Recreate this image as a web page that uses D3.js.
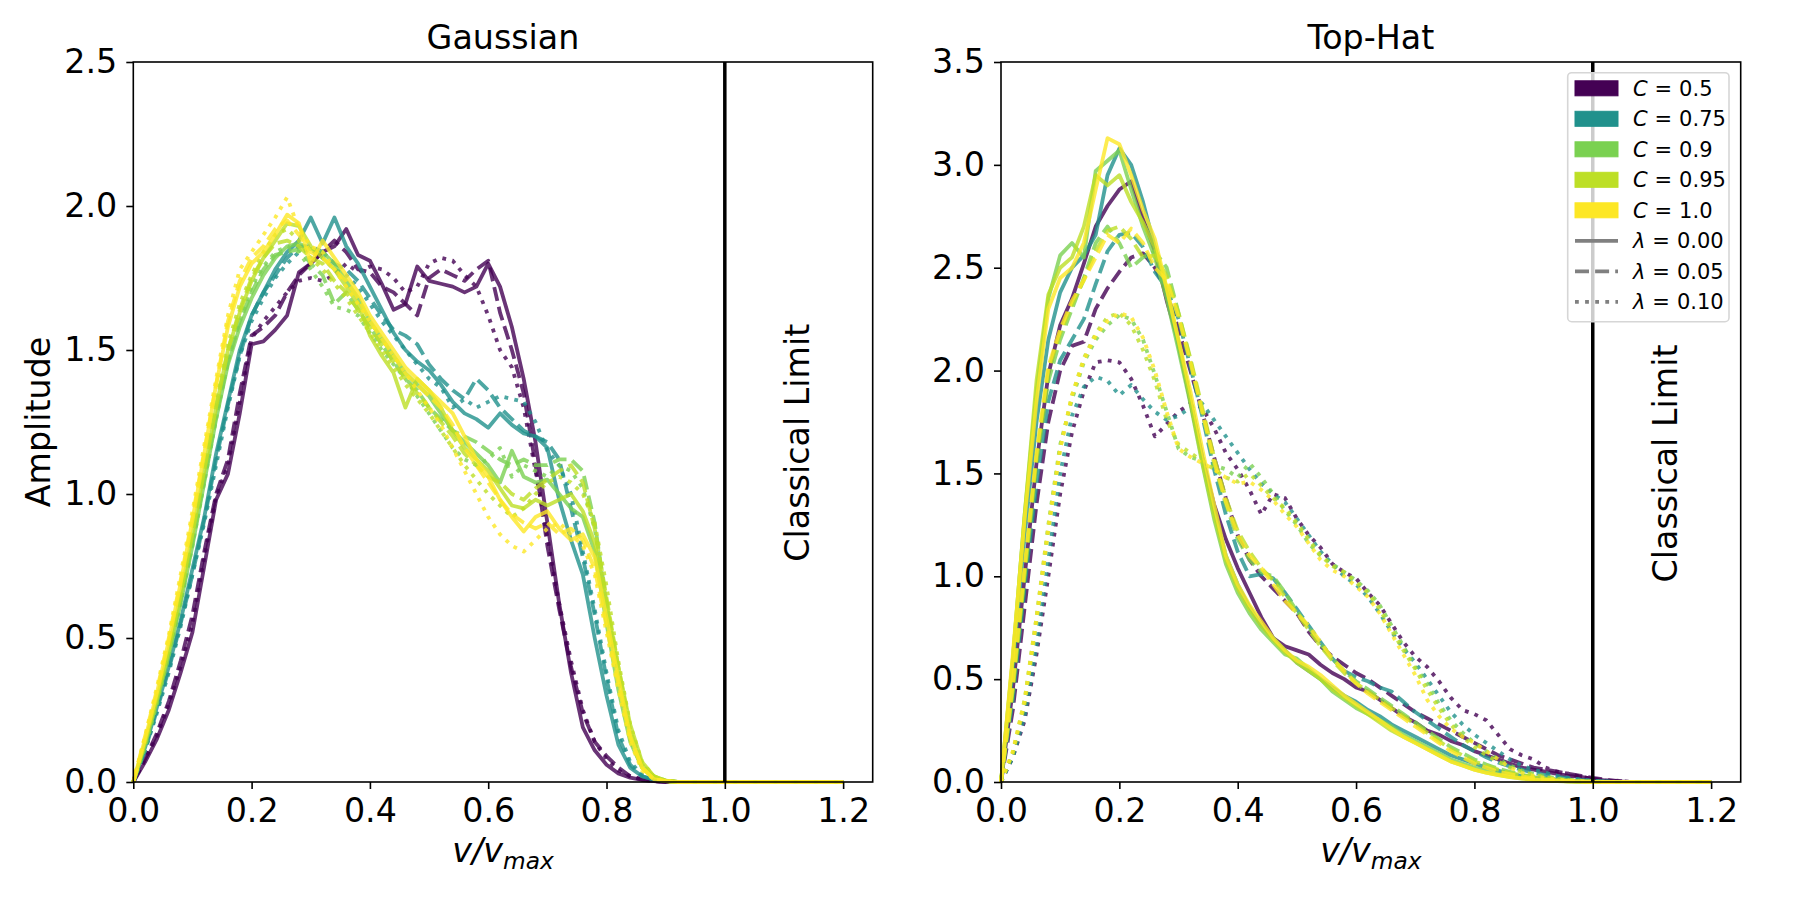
<!DOCTYPE html>
<html><head><meta charset="utf-8">
<script src="https://cdn.jsdelivr.net/npm/d3@7"></script>
<style>body{margin:0;background:#fff} svg{display:block} text{font-family:"DejaVu Sans",sans-serif;fill:#000}</style>
</head><body><svg id="chart" width="1800" height="900"></svg>
<script>
// ---------- data ----------
const vGrid = [0,0.02,0.04,0.06,0.08,0.1,0.12,0.14,0.16,0.18,0.2,0.22,0.24,0.26,0.28,0.3,0.32,0.34,0.36,0.38,0.4,0.42,0.44,0.46,0.48,0.5,0.52,0.54,0.56,0.58,0.6,0.62,0.64,0.66,0.68,0.7,0.72,0.74,0.76,0.78,0.8,0.82,0.84,0.86,0.88,0.9,0.92,0.94,0.96,0.98,1,1.02,1.04,1.06,1.08,1.1,1.12,1.14,1.16,1.18,1.2];
const cValues = [0.5, 0.75, 0.9, 0.95, 1.0];
const cLabels = ["0.5", "0.75", "0.9", "0.95", "1.0"];
const lambdaLabels = ["0.00", "0.05", "0.10"];
const xTicks = [0, 0.2, 0.4, 0.6, 0.8, 1.0, 1.2];
const gaussYTicks = [0, 0.5, 1.0, 1.5, 2.0, 2.5];
const topHatYTicks = [0, 0.5, 1.0, 1.5, 2.0, 2.5, 3.0, 3.5];
const panelTitles = ["Gaussian", "Top-Hat"];

// Gaussian panel
const gauss_C050_L000 = [0,0.07,0.15,0.25,0.38,0.52,0.75,0.98,1.07,1.28, 1.52,1.53,1.57,1.62,1.77,1.80,1.84,1.86,1.92,1.83, 1.81,1.73,1.64,1.66,1.79,1.74,1.73,1.72,1.70,1.72, 1.80,1.72,1.58,1.40,1.18,0.90,0.62,0.38,0.19,0.11, 0.06,0.03,0.015,0.007,0.003,0,0,0,0,0, 0,0,0,0,0,0,0,0,0,0, 0];
const gauss_C050_L005 = [0,0.08,0.17,0.28,0.42,0.58,0.80,1.00,1.12,1.35, 1.55,1.58,1.62,1.70,1.76,1.80,1.84,1.88,1.84,1.78, 1.77,1.72,1.70,1.66,1.62,1.75,1.78,1.76,1.74,1.78, 1.81,1.63,1.50,1.35,1.10,0.82,0.60,0.40,0.24,0.14, 0.09,0.05,0.02,0.008,0.003,0,0,0,0,0, 0,0,0,0,0,0,0,0,0,0, 0];
const gauss_C050_L010 = [0,0.08,0.16,0.27,0.40,0.55,0.78,0.99,1.10,1.32, 1.54,1.60,1.65,1.70,1.74,1.75,1.74,1.76,1.80,1.77, 1.79,1.78,1.75,1.70,1.72,1.80,1.82,1.81,1.76,1.72, 1.62,1.50,1.44,1.30,1.08,0.85,0.62,0.42,0.25,0.14, 0.08,0.04,0.02,0.01,0.004,0,0,0,0,0, 0,0,0,0,0,0,0,0,0,0, 0];
const gauss_C075_L000 = [0,0.12,0.26,0.40,0.56,0.74,0.92,1.14,1.32,1.50, 1.62,1.70,1.78,1.84,1.88,1.96,1.87,1.96,1.86,1.80, 1.72,1.64,1.56,1.50,1.46,1.43,1.38,1.32,1.28,1.26, 1.23,1.28,1.24,1.21,1.20,1.16,0.98,0.84,0.72,0.50, 0.30,0.13,0.05,0.02,0.008,0.003,0,0,0,0, 0,0,0,0,0,0,0,0,0,0, 0];
const gauss_C075_L005 = [0,0.11,0.25,0.39,0.55,0.72,0.91,1.12,1.31,1.48, 1.62,1.70,1.76,1.82,1.86,1.86,1.84,1.80,1.78,1.74, 1.68,1.62,1.57,1.55,1.52,1.45,1.40,1.36,1.33,1.40, 1.36,1.30,1.26,1.22,1.20,1.18,1.12,0.95,0.78,0.58, 0.36,0.16,0.06,0.02,0.008,0.003,0,0,0,0, 0,0,0,0,0,0,0,0,0,0, 0];
const gauss_C075_L010 = [0,0.11,0.24,0.38,0.54,0.72,0.90,1.10,1.30,1.48, 1.60,1.68,1.75,1.80,1.84,1.85,1.82,1.78,1.76,1.72, 1.66,1.60,1.55,1.50,1.45,1.40,1.37,1.30,1.33,1.30, 1.32,1.34,1.33,1.32,1.25,1.15,1.10,1.00,0.80,0.60, 0.38,0.18,0.07,0.025,0.01,0.003,0,0,0,0, 0,0,0,0,0,0,0,0,0,0, 0];
const gauss_C090_L000 = [0,0.13,0.28,0.44,0.62,0.82,1.04,1.26,1.45,1.58, 1.68,1.76,1.82,1.86,1.87,1.85,1.84,1.80,1.74,1.68, 1.60,1.54,1.48,1.42,1.38,1.34,1.28,1.22,1.18,1.14, 1.10,1.04,1.15,1.06,1.04,1.05,1.00,0.95,0.92,0.80, 0.55,0.32,0.14,0.05,0.015,0.004,0,0,0,0, 0,0,0,0,0,0,0,0,0,0, 0];
const gauss_C090_L005 = [0,0.13,0.28,0.45,0.63,0.83,1.05,1.27,1.46,1.60, 1.70,1.78,1.83,1.84,1.85,1.80,1.76,1.66,1.70,1.64, 1.58,1.52,1.46,1.40,1.36,1.30,1.26,1.22,1.20,1.18, 1.15,1.12,1.10,1.12,1.10,1.10,1.12,1.12,1.08,0.90, 0.62,0.36,0.15,0.05,0.015,0.004,0,0,0,0, 0,0,0,0,0,0,0,0,0,0, 0];
const gauss_C090_L010 = [0,0.12,0.27,0.44,0.62,0.82,1.04,1.26,1.46,1.60, 1.72,1.79,1.84,1.86,1.84,1.78,1.72,1.65,1.64,1.62, 1.56,1.50,1.45,1.40,1.34,1.28,1.22,1.16,1.12,1.10, 1.12,1.16,1.06,1.10,1.08,1.06,1.10,1.08,1.02,0.88, 0.62,0.36,0.16,0.06,0.02,0.005,0,0,0,0, 0,0,0,0,0,0,0,0,0,0, 0];
const gauss_C095_L000 = [0,0.14,0.29,0.46,0.65,0.86,1.08,1.30,1.50,1.63, 1.74,1.82,1.88,1.94,1.93,1.86,1.82,1.78,1.72,1.66, 1.55,1.48,1.42,1.30,1.40,1.36,1.30,1.22,1.16,1.12, 1.08,1.02,0.96,0.95,0.98,0.96,0.98,1.00,0.94,0.83, 0.62,0.40,0.20,0.07,0.02,0.005,0,0,0,0, 0,0,0,0,0,0,0,0,0,0, 0];
const gauss_C095_L005 = [0,0.14,0.30,0.47,0.66,0.87,1.09,1.31,1.50,1.64, 1.75,1.82,1.87,1.88,1.86,1.82,1.80,1.74,1.70,1.64, 1.58,1.52,1.46,1.40,1.35,1.30,1.25,1.20,1.14,1.10, 1.06,1.04,1.00,0.98,1.02,1.05,1.08,1.10,1.04,0.88, 0.64,0.40,0.18,0.06,0.02,0.005,0,0,0,0, 0,0,0,0,0,0,0,0,0,0, 0];
const gauss_C095_L010 = [0,0.15,0.31,0.48,0.67,0.88,1.10,1.33,1.52,1.66, 1.76,1.84,1.90,1.92,1.88,1.82,1.78,1.73,1.68,1.62, 1.56,1.50,1.44,1.38,1.33,1.28,1.22,1.16,1.10,1.05, 1.00,0.96,0.92,0.95,1.00,1.04,1.06,1.04,1.00,0.90, 0.68,0.42,0.20,0.07,0.02,0.005,0,0,0,0, 0,0,0,0,0,0,0,0,0,0, 0];
const gauss_C100_L000 = [0,0.15,0.31,0.49,0.69,0.91,1.14,1.38,1.58,1.72, 1.80,1.84,1.90,1.97,1.94,1.80,1.88,1.82,1.76,1.70, 1.62,1.56,1.50,1.44,1.40,1.36,1.32,1.28,1.20,1.12, 1.06,0.98,0.92,0.87,0.92,0.94,0.88,0.84,0.86,0.78, 0.57,0.36,0.16,0.05,0.01,0.003,0,0,0,0, 0,0,0,0,0,0,0,0,0,0, 0];
const gauss_C100_L005 = [0,0.16,0.32,0.50,0.70,0.92,1.15,1.38,1.60,1.74, 1.82,1.86,1.92,1.95,1.90,1.84,1.82,1.78,1.74,1.68, 1.60,1.54,1.48,1.42,1.38,1.34,1.30,1.24,1.16,1.10, 1.04,0.98,0.93,0.90,0.88,0.90,0.86,0.88,0.84,0.74, 0.54,0.34,0.15,0.05,0.01,0.003,0,0,0,0, 0,0,0,0,0,0,0,0,0,0, 0];
const gauss_C100_L010 = [0,0.16,0.33,0.51,0.72,0.94,1.17,1.40,1.62,1.78, 1.84,1.90,1.96,2.03,1.92,1.86,1.84,1.78,1.72,1.66, 1.60,1.54,1.48,1.42,1.36,1.30,1.24,1.16,1.08,1.00, 0.92,0.86,0.82,0.80,0.84,0.88,0.90,0.86,0.82,0.72, 0.52,0.32,0.14,0.04,0.01,0.003,0,0,0,0, 0,0,0,0,0,0,0,0,0,0, 0];

// Top-Hat panel
const tophat_C050_L000 = [0,0.45,1.00,1.55,1.98,2.22,2.35,2.52,2.70,2.80, 2.88,2.92,2.74,2.58,2.34,2.14,1.85,1.58,1.35,1.18, 1.04,0.92,0.80,0.70,0.66,0.64,0.62,0.57,0.53,0.50, 0.46,0.44,0.40,0.36,0.32,0.29,0.25,0.23,0.20,0.18, 0.15,0.13,0.11,0.09,0.07,0.06,0.05,0.04,0.03,0.025, 0.015,0.008,0.003,0,0,0,0,0,0,0, 0];
const tophat_C050_L005 = [0,0.35,0.85,1.35,1.75,2.00,2.12,2.14,2.30,2.40, 2.48,2.55,2.57,2.50,2.38,2.20,2.00,1.80,1.58,1.38, 1.20,1.08,1.00,0.94,0.88,0.82,0.73,0.66,0.61,0.57, 0.53,0.50,0.46,0.42,0.38,0.34,0.31,0.28,0.25,0.22, 0.19,0.16,0.13,0.11,0.09,0.07,0.06,0.05,0.04,0.03, 0.02,0.012,0.006,0.002,0,0,0,0,0,0, 0];
const tophat_C050_L010 = [0,0.12,0.30,0.62,1.00,1.40,1.70,1.90,2.04,2.05, 2.04,1.96,1.83,1.68,1.74,1.80,1.84,1.82,1.72,1.60, 1.52,1.42,1.30,1.40,1.38,1.28,1.20,1.14,1.06,1.02, 0.99,0.92,0.86,0.77,0.68,0.61,0.56,0.49,0.41,0.35, 0.33,0.30,0.23,0.16,0.13,0.11,0.07,0.05,0.04,0.025, 0.015,0.008,0.004,0.002,0,0,0,0,0,0, 0];
const tophat_C075_L000 = [0,0.55,1.20,1.75,2.15,2.38,2.50,2.56,2.66,2.95, 3.08,3.00,2.82,2.60,2.38,2.12,1.86,1.58,1.32,1.10, 0.96,0.85,0.76,0.70,0.64,0.58,0.54,0.50,0.46,0.42, 0.39,0.35,0.32,0.28,0.25,0.22,0.19,0.16,0.13,0.11, 0.09,0.07,0.055,0.04,0.03,0.022,0.016,0.011,0.007,0.004, 0.002,0.001,0,0,0,0,0,0,0,0, 0];
const tophat_C075_L005 = [0,0.40,0.95,1.45,1.85,2.05,2.15,2.25,2.42,2.58, 2.66,2.67,2.60,2.48,2.40,2.25,2.02,1.78,1.52,1.30, 1.12,1.00,1.01,0.99,0.92,0.84,0.76,0.68,0.60,0.54, 0.51,0.49,0.46,0.44,0.39,0.34,0.30,0.26,0.22,0.18, 0.15,0.12,0.095,0.075,0.06,0.045,0.035,0.025,0.017,0.01, 0.006,0.003,0,0,0,0,0,0,0,0, 0];
const tophat_C075_L010 = [0,0.12,0.32,0.66,1.08,1.50,1.78,1.92,1.97,1.95, 1.88,1.93,1.86,1.80,1.76,1.78,1.82,1.84,1.76,1.68, 1.60,1.52,1.45,1.40,1.36,1.28,1.20,1.12,1.06,1.00, 0.96,0.90,0.82,0.73,0.65,0.58,0.50,0.42,0.34,0.28, 0.23,0.19,0.15,0.11,0.08,0.06,0.045,0.03,0.02,0.012, 0.006,0.003,0,0,0,0,0,0,0,0, 0];
const tophat_C090_L000 = [0,0.60,1.30,1.90,2.35,2.56,2.62,2.55,2.97,3.02, 3.07,2.88,2.70,2.55,2.35,2.10,1.84,1.55,1.28,1.06, 0.92,0.82,0.74,0.68,0.62,0.60,0.55,0.50,0.44,0.40, 0.36,0.33,0.30,0.27,0.23,0.20,0.17,0.14,0.11,0.09, 0.07,0.055,0.04,0.03,0.02,0.013,0.008,0.005,0.003,0.001, 0,0,0,0,0,0,0,0,0,0, 0];
const tophat_C090_L005 = [0,0.45,1.00,1.55,1.95,2.15,2.30,2.45,2.62,2.70, 2.62,2.50,2.55,2.58,2.50,2.28,2.05,1.80,1.55,1.35, 1.18,1.08,1.02,1.00,0.92,0.83,0.75,0.67,0.60,0.54, 0.49,0.45,0.41,0.37,0.33,0.29,0.25,0.21,0.17,0.14, 0.11,0.085,0.065,0.05,0.035,0.025,0.017,0.011,0.007,0.004, 0.002,0,0,0,0,0,0,0,0,0, 0];
const tophat_C090_L010 = [0,0.14,0.40,0.80,1.25,1.64,1.86,2.04,2.15,2.22, 2.27,2.25,2.15,1.98,1.80,1.62,1.58,1.56,1.54,1.52, 1.48,1.55,1.48,1.40,1.32,1.25,1.16,1.10,1.06,1.02, 0.98,0.93,0.86,0.76,0.66,0.56,0.48,0.38,0.30,0.24, 0.19,0.15,0.11,0.08,0.055,0.04,0.028,0.018,0.011,0.006, 0.003,0,0,0,0,0,0,0,0,0, 0];
const tophat_C095_L000 = [0,0.60,1.30,1.95,2.37,2.50,2.55,2.70,2.95,2.90, 2.95,2.82,2.72,2.60,2.40,2.14,1.86,1.56,1.30,1.08, 0.94,0.84,0.76,0.69,0.63,0.58,0.54,0.50,0.45,0.41, 0.37,0.33,0.29,0.25,0.22,0.19,0.16,0.13,0.10,0.08, 0.06,0.045,0.033,0.024,0.017,0.011,0.007,0.004,0.002,0.001, 0,0,0,0,0,0,0,0,0,0, 0];
const tophat_C095_L005 = [0,0.45,1.02,1.58,2.00,2.18,2.32,2.44,2.58,2.68, 2.70,2.64,2.55,2.56,2.46,2.28,2.06,1.82,1.58,1.38, 1.22,1.12,1.04,0.98,0.90,0.82,0.74,0.66,0.59,0.53, 0.48,0.44,0.40,0.36,0.32,0.28,0.24,0.20,0.16,0.13, 0.10,0.08,0.06,0.045,0.032,0.022,0.015,0.01,0.006,0.003, 0.001,0,0,0,0,0,0,0,0,0, 0];
const tophat_C095_L010 = [0,0.14,0.38,0.78,1.22,1.62,1.88,2.06,2.18,2.26, 2.28,2.22,2.10,1.95,1.76,1.64,1.60,1.56,1.52,1.48, 1.46,1.50,1.44,1.38,1.33,1.26,1.18,1.10,1.05,1.02, 0.97,0.92,0.84,0.74,0.64,0.55,0.45,0.36,0.28,0.22, 0.17,0.13,0.10,0.07,0.05,0.035,0.024,0.015,0.009,0.005, 0.002,0,0,0,0,0,0,0,0,0, 0];
const tophat_C100_L000 = [0,0.62,1.28,1.85,2.30,2.45,2.50,2.62,2.88,3.13, 3.10,2.95,2.78,2.64,2.40,2.15,1.90,1.62,1.35,1.10, 0.96,0.86,0.78,0.70,0.64,0.59,0.56,0.52,0.47,0.42, 0.38,0.34,0.30,0.26,0.22,0.19,0.16,0.13,0.10,0.08, 0.06,0.045,0.035,0.025,0.018,0.012,0.008,0.005,0.003,0.002, 0.001,0,0,0,0,0,0,0,0,0, 0];
const tophat_C100_L005 = [0,0.48,1.05,1.60,2.02,2.20,2.34,2.44,2.55,2.66, 2.62,2.69,2.62,2.50,2.44,2.26,2.04,1.80,1.56,1.36, 1.20,1.10,1.04,0.96,0.88,0.82,0.76,0.68,0.60,0.54, 0.48,0.43,0.39,0.35,0.31,0.27,0.23,0.19,0.15,0.12, 0.09,0.07,0.05,0.038,0.027,0.018,0.012,0.008,0.005,0.002, 0.001,0,0,0,0,0,0,0,0,0, 0];
const tophat_C100_L010 = [0,0.15,0.40,0.80,1.24,1.62,1.88,2.05,2.17,2.24, 2.28,2.26,2.16,2.00,1.80,1.62,1.58,1.55,1.52,1.48, 1.45,1.46,1.42,1.37,1.30,1.24,1.16,1.08,1.03,1.00, 0.95,0.90,0.82,0.72,0.62,0.52,0.40,0.32,0.26,0.22, 0.19,0.15,0.11,0.07,0.045,0.03,0.02,0.012,0.007,0.004, 0.002,0,0,0,0,0,0,0,0,0, 0];

const gaussSeries = [
  [gauss_C050_L000, gauss_C050_L005, gauss_C050_L010],
  [gauss_C075_L000, gauss_C075_L005, gauss_C075_L010],
  [gauss_C090_L000, gauss_C090_L005, gauss_C090_L010],
  [gauss_C095_L000, gauss_C095_L005, gauss_C095_L010],
  [gauss_C100_L000, gauss_C100_L005, gauss_C100_L010]
];
const tophatSeries = [
  [tophat_C050_L000, tophat_C050_L005, tophat_C050_L010],
  [tophat_C075_L000, tophat_C075_L005, tophat_C075_L010],
  [tophat_C090_L000, tophat_C090_L005, tophat_C090_L010],
  [tophat_C095_L000, tophat_C095_L005, tophat_C095_L010],
  [tophat_C100_L000, tophat_C100_L005, tophat_C100_L010]
];

// ---------- drawing ----------
const svg = d3.select("#chart");
svg.append("rect").attr("width", 1800).attr("height", 900).attr("fill", "#fff");

const FS = 33.3;
const LW = 3.8;
const dashes = [null, "14,6.1", "3.8,6.3"];
const colorScale = d3.scaleSequential(d3.interpolateViridis).domain([0.5, 1.0]);

const TOP = 62, BOTTOM = 782;

function drawPanel(cfg) {
  const x = d3.scaleLinear().domain([0, 1.25]).range([cfg.left, cfg.right]);
  const y = d3.scaleLinear().domain([0, cfg.ymax]).range([BOTTOM, TOP]);
  const g = svg.append("g");

  const line = d3.line().x(d => x(d[0])).y(d => y(d[1]));

  cValues.forEach((c, ci) => {
    [0, 1, 2].forEach(li => {
      const vals = cfg.series[ci][li];
      const pts = vals.map((a, i) => [vGrid[i], a]);
      g.append("path")
        .attr("d", line(pts))
        .attr("fill", "none")
        .attr("stroke", colorScale(c))
        .attr("stroke-opacity", 0.8)
        .attr("stroke-width", LW)
        .attr("stroke-linejoin", "round")
        .attr("stroke-linecap", "butt")
        .attr("stroke-dasharray", dashes[li]);
    });
  });

  g.append("line")
    .attr("x1", x(1.0)).attr("x2", x(1.0))
    .attr("y1", TOP).attr("y2", BOTTOM)
    .attr("stroke", "#000").attr("stroke-width", 3.5);

  const tx = x(1.1) + 25, ty = y(cfg.labelY);
  g.append("text")
    .attr("transform", `translate(${tx},${ty}) rotate(-90)`)
    .attr("text-anchor", "start")
    .attr("font-size", FS)
    .text("Classical Limit");

  const xAxis = d3.axisBottom(x).tickValues(xTicks).tickFormat(d3.format(".1f"))
    .tickSizeInner(7).tickSizeOuter(0).tickPadding(9);
  const gx = g.append("g").attr("transform", `translate(0,${BOTTOM})`).call(xAxis);
  const yAxis = d3.axisLeft(y).tickValues(cfg.yTicks).tickFormat(d3.format(".1f"))
    .tickSizeInner(7).tickSizeOuter(0).tickPadding(9);
  const gy = g.append("g").attr("transform", `translate(${cfg.left},0)`).call(yAxis);
  [gx, gy].forEach(a => {
    a.select(".domain").remove();
    a.selectAll(".tick line").attr("stroke", "#000").attr("stroke-width", 1.6);
    a.selectAll(".tick text").attr("font-size", FS).attr("font-family", "DejaVu Sans").attr("fill", "#000");
  });

  g.append("rect")
    .attr("x", cfg.left).attr("y", TOP)
    .attr("width", cfg.right - cfg.left).attr("height", BOTTOM - TOP)
    .attr("fill", "none").attr("stroke", "#000").attr("stroke-width", 1.6);

  g.append("text")
    .attr("x", (cfg.left + cfg.right) / 2).attr("y", 49)
    .attr("text-anchor", "middle").attr("font-size", FS)
    .text(cfg.title);

  const xl = g.append("text")
    .attr("x", (cfg.left + cfg.right) / 2).attr("y", 862)
    .attr("text-anchor", "middle").attr("font-size", FS)
    .attr("font-style", "italic");
  xl.append("tspan").text("v/v");
  xl.append("tspan").attr("font-size", FS * 0.7).attr("dy", 7).text("max");

  return { x, y, g };
}

drawPanel({
  left: 133.3, right: 872.7, ymax: 2.5, yTicks: gaussYTicks,
  series: gaussSeries, title: panelTitles[0], labelY: 0.765
});
drawPanel({
  left: 1001, right: 1740.7, ymax: 3.5, yTicks: topHatYTicks,
  series: tophatSeries, title: panelTitles[1], labelY: 0.97
});

svg.append("text")
  .attr("transform", `translate(50,422) rotate(-90)`)
  .attr("text-anchor", "middle").attr("font-size", FS)
  .text("Amplitude");

// legend
const lg = svg.append("g");
const LX = 1567.7, LY = 72.7, LBW = 161.3, LBH = 249;
lg.append("rect").attr("x", LX).attr("y", LY).attr("width", LBW).attr("height", LBH)
  .attr("rx", 4).attr("fill", "#fff").attr("fill-opacity", 0.8)
  .attr("stroke", "#d6d6d6").attr("stroke-width", 1.6);
const rowY = i => 88.3 + i * 30.5;
const LFS = 21;
cValues.forEach((c, i) => {
  lg.append("rect").attr("x", 1575).attr("y", rowY(i) - 7.5).attr("width", 43).attr("height", 15)
    .attr("fill", colorScale(c)).attr("stroke", colorScale(c)).attr("stroke-width", 1);
  const t = lg.append("text").attr("x", 1633).attr("y", rowY(i) + 7.5).attr("font-size", LFS);
  t.append("tspan").attr("font-style", "italic").text("C");
  t.append("tspan").text("\u2004=\u2004" + cLabels[i]);
});
lambdaLabels.forEach((l, k) => {
  const i = 5 + k;
  lg.append("line").attr("x1", 1575).attr("x2", 1618).attr("y1", rowY(i)).attr("y2", rowY(i))
    .attr("stroke", "#808080").attr("stroke-width", LW).attr("stroke-dasharray", dashes[k]);
  const t = lg.append("text").attr("x", 1633).attr("y", rowY(i) + 7.5).attr("font-size", LFS);
  t.append("tspan").attr("font-style", "italic").text("λ");
  t.append("tspan").text("\u2004=\u2004" + l);
});
</script>
</body></html>
